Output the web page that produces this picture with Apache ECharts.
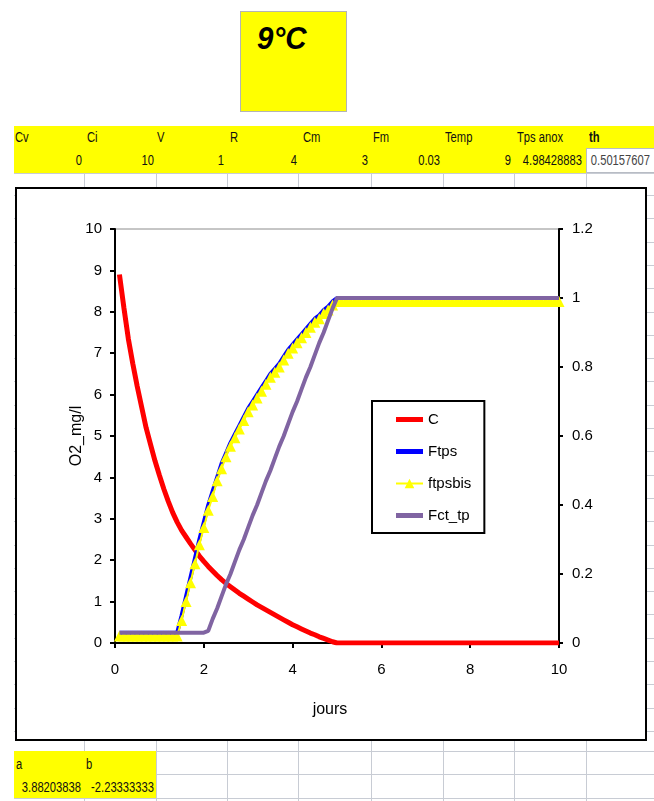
<!DOCTYPE html>
<html><head><meta charset="utf-8">
<script src="https://cdn.jsdelivr.net/npm/echarts@6/dist/echarts.min.js"></script>
<style>
body{margin:0;background:#fff;width:654px;height:801px;overflow:hidden;position:relative;font-family:"Liberation Sans",Arial,sans-serif;}
.box{position:absolute;box-sizing:border-box}
.t{position:absolute;font-size:14px;color:#111;line-height:16px;white-space:nowrap;transform:scaleX(0.8);transform-origin:0 50%}
.t.r{transform-origin:100% 50%;text-align:right}
.hl{position:absolute;height:1px;background:#c8ccd4}
.vl{position:absolute;width:1px;background:#c8ccd4}
#chart{position:absolute;left:0;top:0;width:654px;height:801px;z-index:3}
</style></head><body>
<div id="sheet"></div>
<div id="chart"></div>
<script>
// ---- spreadsheet content ----
const paramNames  = ["Cv","Ci","V","R","Cm","Fm","Temp","Tps anox","th"];
const paramValues = ["", "0","10","1","4","3","0.03","9","4.98428883","0.50157607"];
const coefNames   = ["a","b"];
const coefValues  = ["3.88203838","-2.23333333"];
const titleText   = "9°C";

// ---- chart data ----
const days = [0.1,0.2,0.3,0.4,0.5,0.6,0.7,0.8,0.9,1.0,
1.1,1.2,1.3,1.4,1.5,1.6,1.7,1.8,1.9,2.0,
2.1,2.2,2.3,2.4,2.5,2.6,2.7,2.8,2.9,3.0,
3.1,3.2,3.3,3.4,3.5,3.6,3.7,3.8,3.9,4.0,
4.1,4.2,4.3,4.4,4.5,4.6,4.7,4.8,4.9,5.0,
5.1,5.2,5.3,5.4,5.5,5.6,5.7,5.8,5.9,6.0,
6.1,6.2,6.3,6.4,6.5,6.6,6.7,6.8,6.9,7.0,
7.1,7.2,7.3,7.4,7.5,7.6,7.7,7.8,7.9,8.0,
8.1,8.2,8.3,8.4,8.5,8.6,8.7,8.8,8.9,9.0,
9.1,9.2,9.3,9.4,9.5,9.6,9.7,9.8,9.9,10.0];

const C = [8.9,8.1,7.35,6.75,6.2,5.7,5.2,4.8,4.4,4.05,
3.72,3.42,3.15,2.92,2.72,2.56,2.4,2.25,2.1,1.97,
1.85,1.74,1.63,1.53,1.44,1.36,1.28,1.2,1.13,1.06,
0.99,0.92,0.86,0.8,0.74,0.68,0.62,0.56,0.5,0.44,
0.39,0.34,0.29,0.24,0.2,0.15,0.11,0.07,0.03,0,
0,0,0,0,0,0,0,0,0,0,
0,0,0,0,0,0,0,0,0,0,
0,0,0,0,0,0,0,0,0,0,
0,0,0,0,0,0,0,0,0,0,
0,0,0,0,0,0,0,0,0,0];

const Ftps = [0.03,0.03,0.03,0.03,0.03,0.03,0.03,0.03,0.03,0.03,
0.03,0.03,0.03,0.03,0.08,0.135,0.19,0.245,0.30,0.35,
0.40,0.44,0.48,0.52,0.55,0.58,0.605,0.63,0.655,0.68,
0.70,0.72,0.74,0.76,0.78,0.795,0.81,0.83,0.85,0.865,
0.88,0.895,0.91,0.925,0.94,0.95,0.965,0.975,0.99,1.0,
1,1,1,1,1,1,1,1,1,1,
1,1,1,1,1,1,1,1,1,1,
1,1,1,1,1,1,1,1,1,1,
1,1,1,1,1,1,1,1,1,1,
1,1,1,1,1,1,1,1,1,1];

const ftpsbis = [0.02,0.02,0.02,0.02,0.02,0.02,0.02,0.02,0.02,0.02,
0.02,0.02,0.02,0.02,0.065,0.12,0.175,0.23,0.285,0.335,
0.385,0.425,0.47,0.505,0.54,0.57,0.595,0.62,0.645,0.67,
0.69,0.71,0.73,0.75,0.77,0.785,0.80,0.82,0.84,0.855,
0.87,0.885,0.90,0.915,0.93,0.94,0.955,0.965,0.98,0.99,
0.99,0.99,0.99,0.99,0.99,0.99,0.99,0.99,0.99,0.99,
0.99,0.99,0.99,0.99,0.99,0.99,0.99,0.99,0.99,0.99,
0.99,0.99,0.99,0.99,0.99,0.99,0.99,0.99,0.99,0.99,
0.99,0.99,0.99,0.99,0.99,0.99,0.99,0.99,0.99,0.99,
0.99,0.99,0.99,0.99,0.99,0.99,0.99,0.99,0.99,0.99];

const Fct_tp = [0.03,0.03,0.03,0.03,0.03,0.03,0.03,0.03,0.03,0.03,
0.03,0.03,0.03,0.03,0.03,0.03,0.03,0.03,0.03,0.03,
0.035,0.07,0.10,0.135,0.17,0.20,0.235,0.27,0.30,0.335,
0.37,0.40,0.435,0.47,0.50,0.535,0.57,0.60,0.635,0.67,
0.70,0.735,0.77,0.80,0.835,0.87,0.90,0.935,0.97,1.0,
1,1,1,1,1,1,1,1,1,1,
1,1,1,1,1,1,1,1,1,1,
1,1,1,1,1,1,1,1,1,1,
1,1,1,1,1,1,1,1,1,1,
1,1,1,1,1,1,1,1,1,1];

const leftTicks = {min:0, max:10, interval:1};
const rightTicks = {min:0, max:1.2, interval:0.2};
const xTicks = {min:0, max:10, interval:2};

// ---- build spreadsheet background ----
const sheet = document.getElementById('sheet');
function el(cls, css, txt){const d=document.createElement('div');d.className=cls;Object.assign(d.style,css);if(txt!==undefined)d.textContent=txt;sheet.appendChild(d);return d;}
const colX = [84,156,227,298,371,443,514,586];
for (let y=195; y<740; y+=23.3) el('hl',{left:'14px',top:Math.round(y)+'px',width:'640px'});
el('box',{left:'14px',top:'126px',width:'640px',height:'22px',background:'#ffff00'});
el('box',{left:'14px',top:'148px',width:'572px',height:'25px',background:'#ffff00'});
el('box',{left:'586px',top:'148px',width:'68px',height:'25px',background:'#fff',border:'1px solid #b8bcc4',borderRight:'none'});
el('hl',{left:'14px',top:'173px',width:'640px'});
colX.forEach(x=>el('vl',{left:x+'px',top:'173px',height:'16px'}));
const nameX = [15,87,157,230,303,373,445,517,589];
paramNames.forEach((n,i)=>{const d=el('t',{left:nameX[i]+'px',top:'129px'},n); if(n==='th'){d.style.fontWeight='bold';}});
const valRight = [0,82,154,224,297,368,440,511,582,650];
paramValues.forEach((v,i)=>{ if(!v) return; el('t r',{left:(valRight[i]-100)+'px',width:'100px',top:'152px',color:(i===9?'#444':'#111')},v);});
el('box',{left:'240px',top:'11px',width:'107px',height:'101px',background:'#ffff00',border:'1px solid #b4b4b4'});
el('t',{left:'257px',top:'21px',fontSize:'31px',lineHeight:'36px',fontWeight:'bold',fontStyle:'italic',color:'#000',transform:'scaleX(0.95)'},titleText);
el('box',{left:'15px',top:'187px',width:'632px',height:'554px',background:'#fff',border:'2px solid #000',zIndex:2});
[751,774,798].forEach(y=>el('hl',{left:'14px',top:y+'px',width:'640px'}));
colX.forEach(x=>el('vl',{left:x+'px',top:'741px',height:'60px'}));
el('box',{left:'14px',top:'751px',width:'142px',height:'47px',background:'#ffff00'});
el('t',{left:'16px',top:'756px'},coefNames[0]);
el('t',{left:'86px',top:'756px'},coefNames[1]);
el('t r',{left:'-20px',width:'101px',top:'779px'},coefValues[0]);
el('t r',{left:'53px',width:'101px',top:'779px'},coefValues[1]);

// ---- chart ----
const FONT = '"Liberation Sans",Arial,sans-serif';
const pairs = arr => days.map((d,i)=>[d, arr[i]]);
const chart = echarts.init(document.getElementById('chart'), null, {renderer:'canvas'});
const lbl = m => ({color:'#000',fontSize:15,fontFamily:FONT,margin:m});
const axisCommon = {
  axisLine:{show:true,onZero:false,lineStyle:{color:'#000',width:2}},
  axisTick:{show:true,inside:false,length:5,lineStyle:{color:'#000',width:2}},
  splitLine:{show:false}
};
const BAR = 'path://M0,0L27,0L27,5L0,5Z';
chart.setOption({
  animation:false,
  backgroundColor:'transparent',
  grid:{left:115,top:229,width:444,height:414,containLabel:false,show:true,borderColor:'#8c8c8c',borderWidth:1,backgroundColor:'transparent'},
  legend:{
    orient:'vertical', left:372, top:401,
    padding:[11,13,10,23], itemGap:17, itemWidth:27, itemHeight:12, itemTextGap:0,
    symbolKeepAspect:true,
    borderColor:'#000', borderWidth:2, backgroundColor:'#fff',
    textStyle:{color:'#000',fontSize:15,fontFamily:FONT},
    data:[{name:'C',icon:BAR},{name:'Ftps',icon:BAR},{name:'ftpsbis'},{name:'Fct_tp',icon:BAR}]
  },
  xAxis:Object.assign({type:'value',min:xTicks.min,max:xTicks.max,interval:xTicks.interval,
    name:'jours',nameLocation:'middle',nameGap:59,nameMoveOverlap:false,
    nameTextStyle:{color:'#000',fontSize:16,fontFamily:FONT,padding:[0,14,0,0]},
    axisLabel:lbl(19)}, axisCommon),
  yAxis:[
    Object.assign({type:'value',position:'left',min:leftTicks.min,max:leftTicks.max,interval:leftTicks.interval,
      name:'O2_mg/l',nameLocation:'middle',nameGap:30,nameMoveOverlap:false,
      nameTextStyle:{color:'#000',fontSize:16,fontFamily:FONT},
      axisLabel:lbl(13)}, axisCommon),
    Object.assign({type:'value',position:'right',min:rightTicks.min,max:rightTicks.max,interval:rightTicks.interval,
      axisLabel:lbl(13)}, axisCommon,
      {axisTick:{show:true,inside:false,length:4,lineStyle:{color:'#000',width:2}}})
  ],
  series:[
    {name:'C',type:'line',yAxisIndex:0,data:pairs(C),symbol:'none',color:'#ff0000',lineStyle:{color:'#ff0000',width:5},z:2},
    {name:'Ftps',type:'line',yAxisIndex:1,data:pairs(Ftps),symbol:'none',color:'#0000ff',lineStyle:{color:'#0000ff',width:4},z:3},
    {name:'ftpsbis',type:'line',yAxisIndex:1,data:pairs(ftpsbis),symbol:'triangle',symbolSize:11,showSymbol:true,color:'#ffff00',
      itemStyle:{color:'#ffff00',borderWidth:0},lineStyle:{color:'#ffff00',width:2},z:4},
    {name:'Fct_tp',type:'line',yAxisIndex:1,data:pairs(Fct_tp),symbol:'none',color:'#8064a2',lineStyle:{color:'#8064a2',width:4},z:5}
  ]
});
</script>
</body></html>
